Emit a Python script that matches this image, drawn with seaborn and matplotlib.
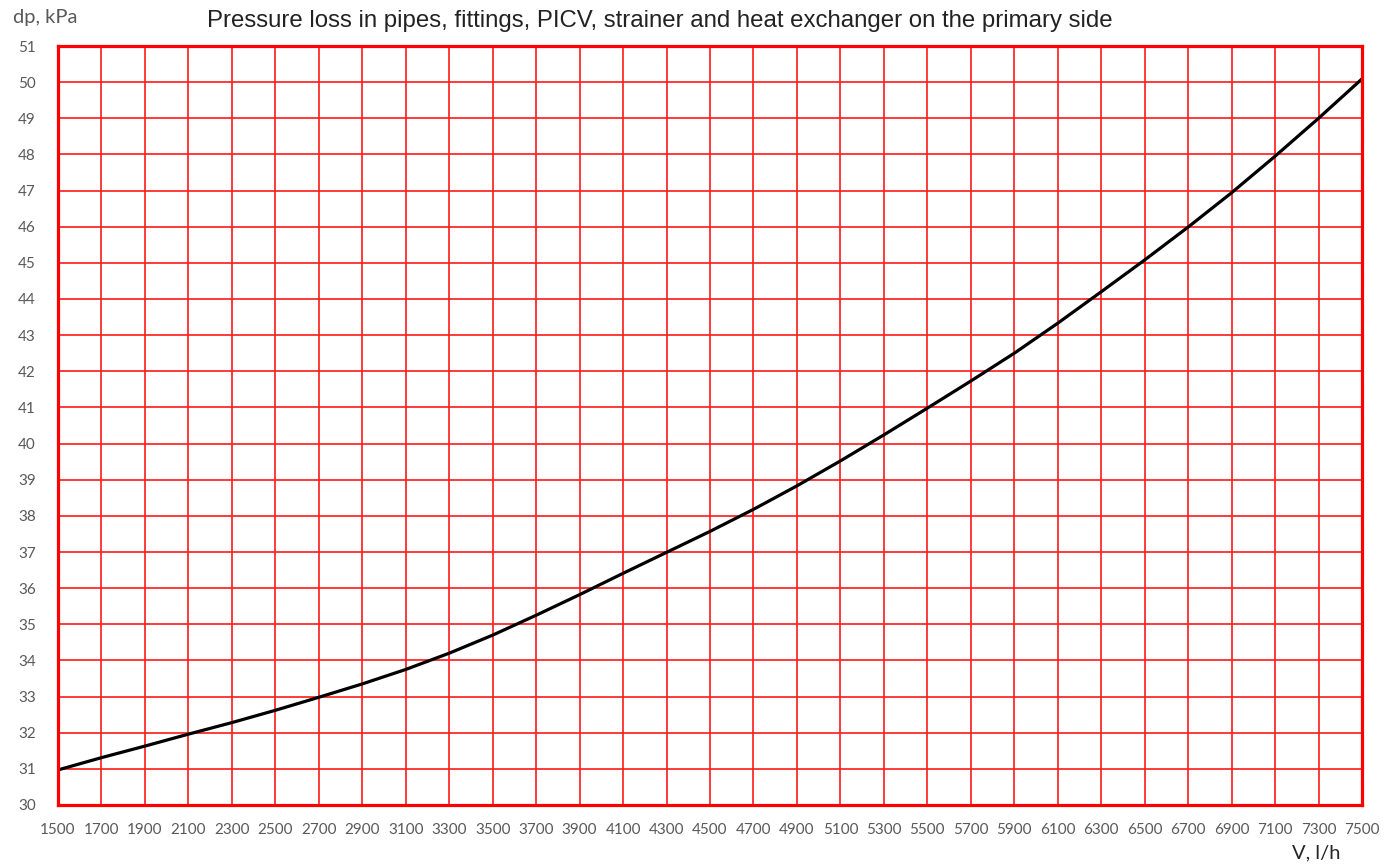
import seaborn as sns
import matplotlib.pyplot as plt
import pandas as pd

# flow rate, l/h
flow = [1500, 1700, 1900, 2100, 2300, 2500, 2700, 2900, 3100, 3300,
        3500, 3700, 3900, 4100, 4300, 4500, 4700, 4900, 5100, 5300,
        5500, 5700, 5900, 6100, 6300, 6500, 6700, 6900, 7100, 7300, 7500]
# pressure loss, kPa
dp = [30.97, 31.31, 31.63, 31.96, 32.28, 32.62, 32.98, 33.35, 33.75, 34.20,
      34.70, 35.25, 35.82, 36.41, 36.99, 37.57, 38.18, 38.83, 39.52, 40.24,
      40.98, 41.73, 42.50, 43.33, 44.20, 45.08, 45.99, 46.94, 47.95, 49.00, 50.09]

x_ticks = list(range(1500, 7501, 200))
y_ticks = list(range(30, 52))

df = pd.DataFrame({'flow': flow, 'dp': dp})

sns.set_style('white')
plt.rcParams['font.family'] = ['Lato', 'DejaVu Sans']

fig = plt.figure(figsize=(13.95, 8.68), dpi=100)
ax = fig.add_axes([58/1395, 1 - 805/868, (1362 - 58)/1395, (805 - 46)/868])

sns.lineplot(data=df, x='flow', y='dp', ax=ax, color='black', linewidth=2.3)

ax.set_xlim(1500, 7500)
ax.set_ylim(30, 51)
ax.set_xticks(x_ticks)
ax.set_yticks(y_ticks)
ax.grid(True, color='#ff1a1a', linewidth=1.2)
ax.set_axisbelow(True)
for s in ax.spines.values():
    s.set_color('#ff0000')
    s.set_linewidth(2.3)
ax.tick_params(length=0, labelsize=11, labelcolor='#595959')
ax.tick_params(axis='y', pad=16)
ax.tick_params(axis='x', pad=13)
ax.set_xlabel('')
ax.set_ylabel('')

fig.text(660/1395, 1 - 21/868, 'Pressure loss in pipes, fittings, PICV, strainer and heat exchanger on the primary side',
         ha='center', va='center', fontsize=17.3, color='#222222', family=['Liberation Sans', 'DejaVu Sans'])
fig.text(13/1395, 1 - 18/868, 'dp, kPa', ha='left', va='center', fontsize=14.5, color='#595959')
fig.text(1340/1395, 1 - 853/868, 'V, l/h', ha='right', va='center', fontsize=14.5, color='#262626')

fig.savefig('out.png', dpi=100)
